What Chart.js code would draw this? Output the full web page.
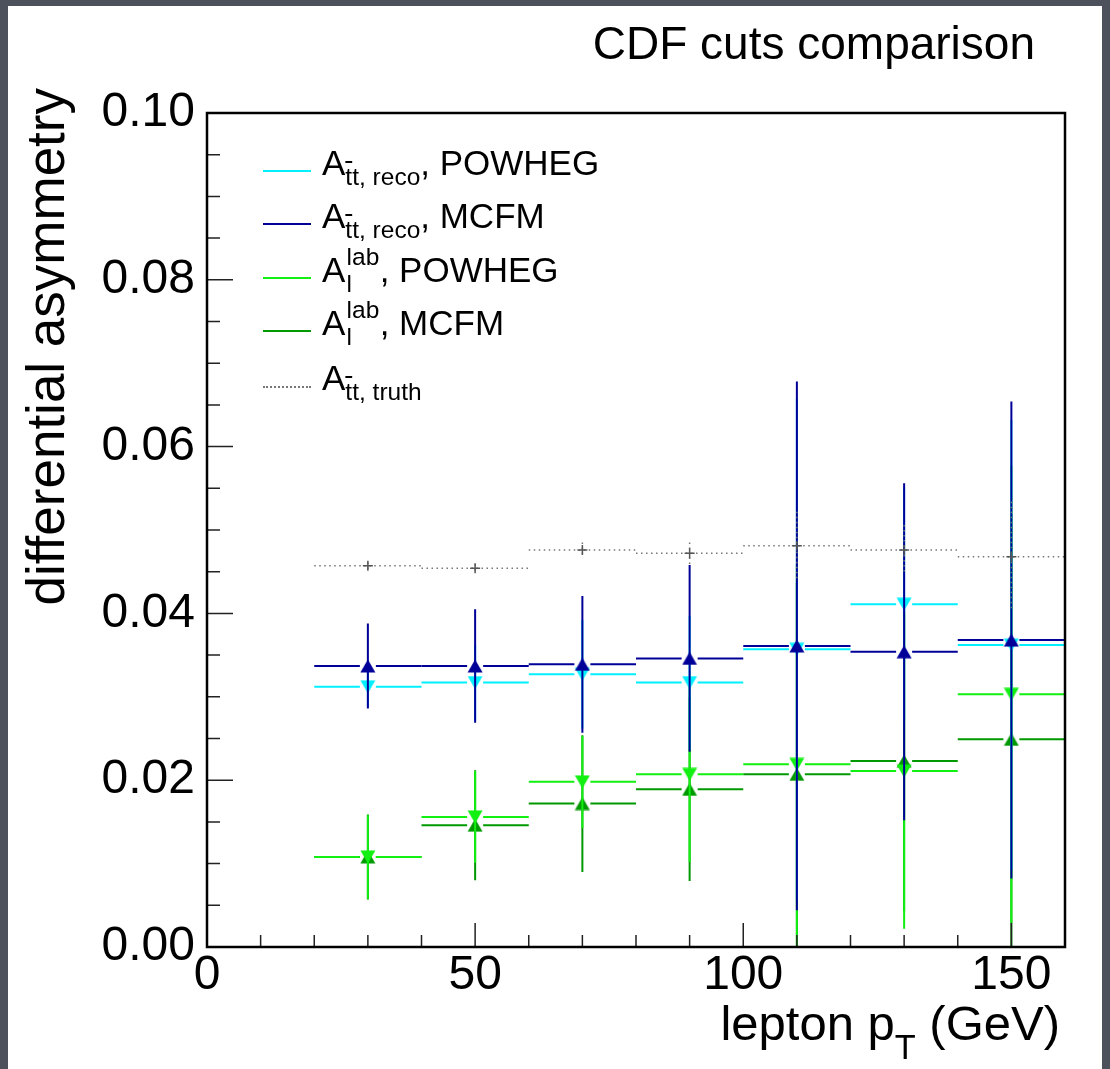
<!DOCTYPE html>
<html lang="en">
<head>
<meta charset="UTF-8">
<title>CDF cuts comparison</title>
<script src="https://cdn.jsdelivr.net/npm/chart.js"></script>
<style>
  body { margin:0; width:1110px; height:1069px; overflow:hidden; position:relative;
         background:#4d515c; font-family:"Liberation Sans", Arial, sans-serif; color:#000; }
  #page { position:absolute; left:8px; top:6px; width:1094px; height:1063px; background:#fff; }
  #plot { position:absolute; left:0; top:0; }
  .txt { position:absolute; white-space:nowrap; line-height:1; }
  #title { right:75px; top:20px; font-size:46px; }
  #xtitle { right:50px; top:999px; font-size:49px; }
  #xtitle .sub { vertical-align:-0.55em; }
  #ytitle { left:19px; top:688px; width:600px; text-align:right; font-size:53px;
            transform-origin:0 0; transform:rotate(-90deg); }
  .sub { font-size:70%; vertical-align:-0.4em; }
  .bar { text-decoration:overline; }
  .stk { position:relative; display:inline-block; font-size:70%; width:1.4em; height:1em; }
  .stk span { position:absolute; left:0.05em; line-height:1; }
  .stk .hi { bottom:0.5em; }
  .stk .lo { bottom:-0.6em; }
  .leg { position:absolute; left:263px; width:48px; height:0; }
  .legtxt { position:absolute; left:322px; font-size:35px; line-height:1; white-space:nowrap; }
</style>
</head>
<body>
<div id="page"></div>
<canvas id="plot" width="1110" height="1069"></canvas>

<div class="txt" id="title">CDF cuts comparison</div>
<div class="txt" id="ytitle">differential asymmetry</div>
<div class="txt" id="xtitle">lepton p<span class="sub">T</span> (GeV)</div>

<div class="leg" style="top:170px; border-top:2px solid #00f0ff;"></div>
<div class="legtxt" style="top:145px;">A<span class="sub"><span class="bar">t</span>t, reco</span>, POWHEG</div>
<div class="leg" style="top:223px; border-top:2px solid #000099;"></div>
<div class="legtxt" style="top:198px;">A<span class="sub"><span class="bar">t</span>t, reco</span>, MCFM</div>
<div class="leg" style="top:277px; border-top:2px solid #11f011;"></div>
<div class="legtxt" style="top:252px;">A<span class="stk"><span class="hi">lab</span><span class="lo">l</span></span>, POWHEG</div>
<div class="leg" style="top:330px; border-top:2px solid #009900;"></div>
<div class="legtxt" style="top:305px;">A<span class="stk"><span class="hi">lab</span><span class="lo">l</span></span>, MCFM</div>
<div class="leg" style="top:386px; border-top:2px dotted #777;"></div>
<div class="legtxt" style="top:360px;">A<span class="sub"><span class="bar">t</span>t, truth</span></div>

<script>
// bins of lepton pT (GeV)
const binLow = [20, 40, 60, 80, 100, 120, 140];
const binHigh = [40, 60, 80, 100, 120, 140, 160];
const binCenter = [30, 50, 70, 90, 110, 130, 150];

// A_ttbar reco
const recoPowheg = [0.0312, 0.0317, 0.0327, 0.0317, 0.0357, 0.0411, 0.0362];
const recoPowhegErr = [0.0024, 0.0045, 0.0065, 0.0080, 0.0300, 0.0140, 0.0270];
const recoMcfm = [0.0337, 0.0337, 0.0339, 0.0346, 0.0361, 0.0354, 0.0368];
const recoMcfmErr = [0.0051, 0.0068, 0.0082, 0.0112, 0.0317, 0.0202, 0.0286];

// A_l lab
const labPowheg = [0.0108, 0.0156, 0.0198, 0.0207, 0.0219, 0.0211, 0.0303];
const labPowhegErr = [0.0050, 0.0055, 0.0055, 0.0105, 0.0240, 0.0189, 0.0274];
const labMcfm = [0.0108, 0.0146, 0.0172, 0.0189, 0.0207, 0.0223, 0.0249];
const labMcfmErr = [0.0051, 0.0066, 0.0082, 0.0110, 0.0230, 0.0180, 0.0270];

// A_ttbar truth
const truth = [0.0457, 0.0454, 0.0476, 0.0472, 0.0481, 0.0476, 0.0468];
const truthErr = [0.0004, 0.0005, 0.0009, 0.0013, 0.0041, 0.0030, 0.0066];

const xTicks = [0, 50, 100, 150];
const yTicks = [0, 0.02, 0.04, 0.06, 0.08, 0.10];
const xMinor = 10, yMinor = 0.005;

const font = '"Liberation Sans", Arial, sans-serif';

// ROOT-like filled triangles, centred on their bounding box
function triangle(color, up) {
  const c = document.createElement('canvas');
  c.width = 16; c.height = 14;
  const g = c.getContext('2d');
  g.fillStyle = color;
  g.beginPath();
  if (up) { g.moveTo(0.5, 13.5); g.lineTo(15.5, 13.5); g.lineTo(8, 0.5); }
  else { g.moveTo(0.5, 0.5); g.lineTo(15.5, 0.5); g.lineTo(8, 13.5); }
  g.closePath();
  g.fill();
  return c;
}

function series(label, values, errors, color, up, order) {
  return {
    label: label,
    data: binCenter.map((x, i) => ({ x: x, y: values[i] })),
    errors: errors,
    barColor: color,
    gap: 8,
    pointStyle: triangle(color, up),
    pointRadius: 8,
    backgroundColor: color,
    borderColor: color,
    borderWidth: 0,
    showLine: false,
    order: order
  };
}

const datasets = [
  series('A tt reco, POWHEG', recoPowheg, recoPowhegErr, '#00f0ff', false, 2),
  series('A tt reco, MCFM', recoMcfm, recoMcfmErr, '#000099', true, 1),
  series('A l lab, POWHEG', labPowheg, labPowhegErr, '#11f011', false, 3),
  series('A l lab, MCFM', labMcfm, labMcfmErr, '#009900', true, 4),
  {
    label: 'A tt truth',
    data: binCenter.map((x, i) => ({ x: x, y: truth[i] })),
    errors: truthErr,
    barColor: '#777',
    dotted: true,
    gap: 0,
    pointStyle: 'cross',
    pointRadius: 5,
    borderColor: '#555',
    borderWidth: 1.5,
    showLine: false,
    order: 0
  }
];

// horizontal bin-width bars and vertical error bars, drawn just before each dataset's markers
const errorBars = {
  id: 'errorBars',
  beforeDatasetDraw(chart, args) {
    const ds = chart.data.datasets[args.index];
    const xs = chart.scales.x, ys = chart.scales.y;
    const ctx = chart.ctx, a = chart.chartArea;
    ctx.save();
    ctx.beginPath();
    ctx.rect(a.left, a.top, a.right - a.left, a.bottom - a.top);
    ctx.clip();
    ctx.strokeStyle = ds.barColor;
    ctx.lineWidth = ds.dotted ? 1.5 : 2;
    ctx.setLineDash(ds.dotted ? [1.5, 3.5] : []);
    ds.data.forEach((p, i) => {
      const px = xs.getPixelForValue(p.x), py = ys.getPixelForValue(p.y);
      const x0 = xs.getPixelForValue(binLow[i]), x1 = xs.getPixelForValue(binHigh[i]);
      ctx.beginPath();
      if (ds.gap > 0) {
        ctx.moveTo(x0, py); ctx.lineTo(px - ds.gap, py);
        ctx.moveTo(px + ds.gap, py); ctx.lineTo(x1, py);
      } else {
        ctx.moveTo(x0, py); ctx.lineTo(x1, py);
      }
      ctx.moveTo(px, ys.getPixelForValue(p.y + ds.errors[i]));
      ctx.lineTo(px, ys.getPixelForValue(p.y - ds.errors[i]));
      ctx.stroke();
    });
    ctx.restore();
  }
};

// frame and inward ticks, ROOT style
const frame = {
  id: 'frame',
  afterDatasetsDraw(chart) {
    const { ctx, chartArea: a, scales: { x, y } } = chart;
    ctx.save();
    ctx.strokeStyle = '#222';
    ctx.lineWidth = 1.5;
    ctx.beginPath();
    for (let i = 0; i * xMinor <= x.max; i++) {
      const v = i * xMinor, px = x.getPixelForValue(v);
      const len = xTicks.includes(v) ? 24 : 12;
      ctx.moveTo(px, a.bottom); ctx.lineTo(px, a.bottom - len);
    }
    for (let i = 0; i * yMinor <= y.max + 1e-9; i++) {
      const py = y.getPixelForValue(i * yMinor);
      const len = i % 4 === 0 ? 26 : 13;
      ctx.moveTo(a.left, py); ctx.lineTo(a.left + len, py);
    }
    ctx.stroke();
    ctx.strokeStyle = '#000';
    ctx.lineWidth = 2.5;
    ctx.strokeRect(a.left, a.top, a.right - a.left, a.bottom - a.top);
    ctx.restore();
  }
};

new Chart(document.getElementById('plot'), {
  type: 'scatter',
  data: { datasets: datasets },
  options: {
    responsive: false,
    devicePixelRatio: 1,
    animation: false,
    layout: { padding: { top: 113, right: 45, left: 0, bottom: 0 } },
    plugins: { legend: { display: false }, tooltip: { enabled: false } },
    scales: {
      x: {
        type: 'linear', min: 0, max: 160,
        afterBuildTicks: s => { s.ticks = xTicks.map(v => ({ value: v })); },
        afterFit: s => { s.height = 122; },
        grid: { display: false, drawTicks: false },
        border: { display: false },
        ticks: { font: { family: font, size: 48 }, color: '#000', padding: 0, maxRotation: 0, autoSkip: false }
      },
      y: {
        type: 'linear', min: 0, max: 0.1,
        afterBuildTicks: s => { s.ticks = yTicks.map(v => ({ value: v })); },
        afterFit: s => { s.width = 207; },
        grid: { display: false, drawTicks: false },
        border: { display: false },
        ticks: { font: { family: font, size: 48 }, color: '#000', padding: 12, autoSkip: false,
                 callback: v => v.toFixed(2) }
      }
    }
  },
  plugins: [errorBars, frame]
});
</script>
</body>
</html>
